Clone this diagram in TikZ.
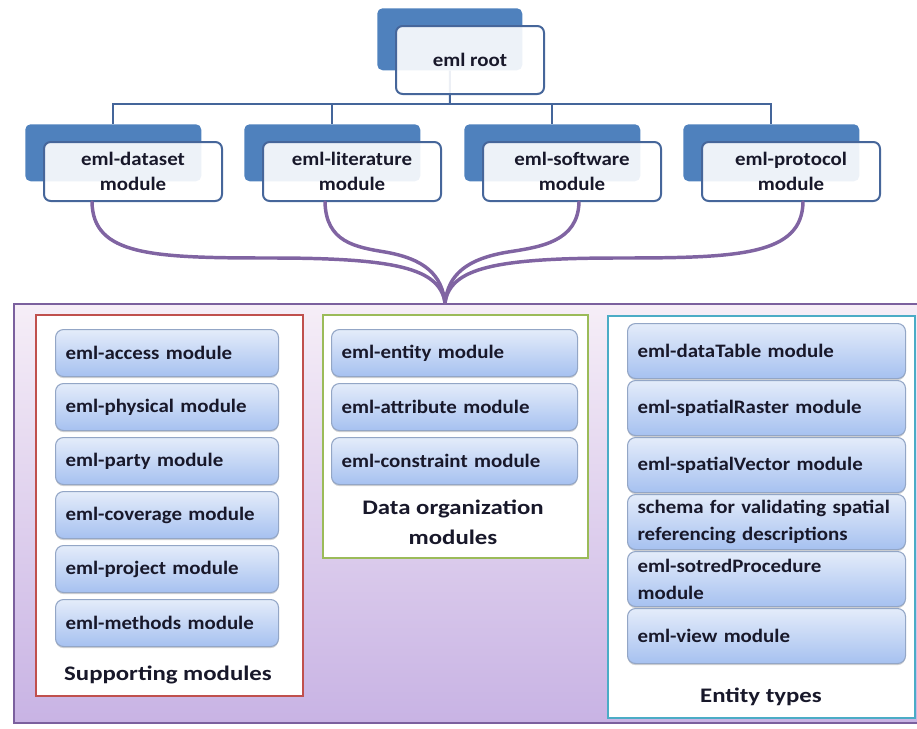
\documentclass[tikz,border=0pt]{standalone}
\usepackage{fontspec}
\setmainfont{Carlito}
\newfontfamily\itemfont[FakeStretch=1.1]{Carlito}
\newfontfamily\headfont[FakeStretch=1.2]{Carlito}
\usetikzlibrary{shadows}
\definecolor{backblue}{HTML}{4F81BD}
\definecolor{frontborder}{HTML}{46669A}
\definecolor{treeline}{HTML}{44659A}
\definecolor{purpline}{HTML}{8064A2}
\definecolor{bigborder}{HTML}{7B609E}
\definecolor{bigtop}{HTML}{F6EEF7}
\definecolor{bigbot}{HTML}{C8B3E4}
\definecolor{redb}{HTML}{C0504D}
\definecolor{greenb}{HTML}{9BBB59}
\definecolor{cyanb}{HTML}{4BACC6}
\definecolor{itemtop}{HTML}{E4ECFA}
\definecolor{itembot}{HTML}{A6C1F0}
\definecolor{itemborder}{HTML}{93A6C6}
\definecolor{txt}{HTML}{18182A}
\tikzset{
  backrect/.style={fill=backblue, rounded corners=4pt, anchor=north west, inner sep=0pt},
  frontrect/.style={draw=frontborder, line width=1.5pt, fill=white, fill opacity=0.9, text opacity=1,
     rounded corners=5pt, anchor=north west, inner sep=0pt, align=center, text=txt,
     font=\itemfont\bfseries\fontsize{14.25}{18.75}\selectfont},
  itembox/.style={draw=itemborder, line width=0.8pt, rounded corners=6pt, top color=itemtop, bottom color=itembot,
     anchor=north west, inner xsep=7.5pt, inner ysep=0pt, align=left, text=txt,
     font=\itemfont\bfseries\fontsize{14.25}{20.25}\selectfont,
     drop shadow={shadow xshift=0pt, shadow yshift=-1.2pt, opacity=0.35, fill=gray}},
  groupbox/.style={line width=1.6pt, fill=white, anchor=north west, inner sep=0pt},
  grouplabel/.style={align=center, text=txt, font=\headfont\bfseries\fontsize{15.5}{22.5}\selectfont},
  treeconn/.style={draw=treeline, line width=1.5pt},
  brace/.style={draw=purpline, line width=2.6pt, line cap=round}
}
\begin{document}
\begin{tikzpicture}[x=0.75pt,y=-0.75pt]
\useasboundingbox (0,0) rectangle (917,728);
% big container (right edge runs off the picture)
\node[draw=bigborder, line width=1.6pt, top color=bigtop, bottom color=bigbot, anchor=north west, inner sep=0pt,
      minimum width=912*0.75pt, minimum height=419*0.75pt] (big) at (13,303) {};
% group boxes
\node[groupbox, draw=redb, minimum width=267*0.75pt, minimum height=381*0.75pt] (gsup) at (35,314) {};
\node[groupbox, draw=greenb, minimum width=265*0.75pt, minimum height=243*0.75pt] (gdat) at (322,314) {};
\node[groupbox, draw=cyanb, minimum width=307*0.75pt, minimum height=402*0.75pt] (gent) at (607,315) {};
% supporting items
\foreach \n/\t/\y in {s1/eml-access module/329, s2/eml-physical module/383, s3/eml-party module/437,
                      s4/eml-coverage module/491, s5/eml-project module/545, s6/eml-methods module/599}
  \node[itembox, text width=152.25pt, minimum height=35.25pt] (\n) at (55,\y) {\t};
% data organization items
\foreach \n/\t/\y in {d1/eml-entity module/329, d2/eml-attribute module/383, d3/eml-constraint module/437}
  \node[itembox, text width=169.5pt, minimum height=35.25pt] (\n) at (331,\y) {\t};
% entity type items
\node[itembox, text width=193.5pt, minimum height=41.25pt] (e1) at (627,323) {eml-dataTable module};
\node[itembox, text width=193.5pt, minimum height=41.25pt] (e2) at (627,380) {eml-spatialRaster module};
\node[itembox, text width=193.5pt, minimum height=41.25pt] (e3) at (627,437) {eml-spatialVector module};
\node[itembox, text width=193.5pt, minimum height=41.25pt] (e4) at (627,494) {schema for validating spatial\\referencing descriptions};
\node[itembox, text width=193.5pt, minimum height=41.25pt] (e5) at (627,551) {eml-sotredProcedure\\module};
\node[itembox, text width=193.5pt, minimum height=41.25pt] (e6) at (627,608) {eml-view module};
% group labels
\node[grouplabel] (lsup) at (168,675) {Supporting modules};
\node[grouplabel] (ldat) at (453,522) {Data organization\\modules};
\node[grouplabel] (lent) at (761,697) {Entity types};
% tree: back rects
\node[backrect, minimum width=108.75pt, minimum height=46.5pt] (rootb) at (377,8) {};
\node[backrect, minimum width=132pt, minimum height=42.75pt] (dsb) at (25,124) {};
\node[backrect, minimum width=132pt, minimum height=42.75pt] (litb) at (244,124) {};
\node[backrect, minimum width=132pt, minimum height=42.75pt] (swb) at (464,124) {};
\node[backrect, minimum width=132pt, minimum height=42.75pt] (prb) at (683,124) {};
% tree connectors
\coordinate (bus) at (450,104);
\draw[treeconn] (rootb.south) -- (bus);
\draw[treeconn] (rootb.south |- bus) -| (dsb.north);
\draw[treeconn] (rootb.south |- bus) -| (litb.north);
\draw[treeconn] (rootb.south |- bus) -| (swb.north);
\draw[treeconn] (rootb.south |- bus) -| (prb.north);
% front rects
\node[frontrect, minimum width=111pt, minimum height=51pt] (root) at (395,25) {eml root};
\node[frontrect, minimum width=133.5pt, minimum height=44.25pt] (ds) at (43,141) {eml-dataset\\module};
\node[frontrect, minimum width=133.5pt, minimum height=44.25pt] (lit) at (262,141) {eml-literature\\module};
\node[frontrect, minimum width=133.5pt, minimum height=44.25pt] (sw) at (482,141) {eml-software\\module};
\node[frontrect, minimum width=133.5pt, minimum height=44.25pt] (pr) at (701,141) {eml-protocol\\module};
% brace curves
\coordinate (c1) at (92,202);
\coordinate (c2) at (325,202);
\coordinate (c3) at (579,202);
\coordinate (c4) at (803,202);
\coordinate (meet) at (445,303);
\draw[brace] (c1) .. controls (93,255) and (150,258) .. (270,258) .. controls (395,258) and (440,268) .. (meet);
\draw[brace] (c4) .. controls (802,255) and (740,258) .. (620,258) .. controls (495,258) and (450,268) .. (meet);
\draw[brace] (c2) .. controls (326,242) and (355,247) .. (385,252) .. controls (425,259) and (442,275) .. (meet);
\draw[brace] (c3) .. controls (578,242) and (540,247) .. (508,252) .. controls (466,259) and (448,275) .. (meet);
\end{tikzpicture}
\end{document}
